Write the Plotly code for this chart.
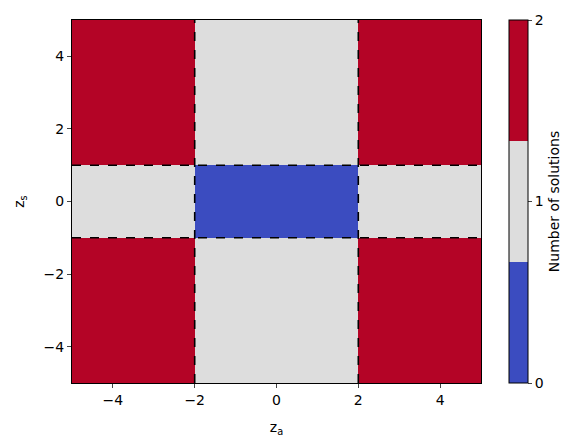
import plotly.graph_objects as go

# cell edges of the solution-count map
za_edges = [-5, -2, 2, 5]
zs_edges = [-5, -1, 1, 5]
n_solutions = [
    [2, 1, 2],
    [1, 0, 1],
    [2, 1, 2],
]
za_bounds = [-2, 2]
zs_bounds = [-1, 1]
ticks = [-4, -2, 0, 2, 4]

blue, grey, red = "#3b4cc0", "#dddddd", "#b40426"
cscale = [[0, blue], [1/3, blue], [1/3, grey], [2/3, grey], [2/3, red], [1, red]]

fig = go.Figure(go.Heatmap(
    x=za_edges, y=zs_edges, z=n_solutions, zmin=0, zmax=2, colorscale=cscale,
    colorbar=dict(x=1.069, xanchor="left", y=0, yanchor="bottom", len=1, lenmode="fraction",
                  thickness=19, outlinewidth=1, outlinecolor="black", xpad=0, ypad=0,
                  tickvals=[0, 1, 2], ticks="outside", ticklen=4,
                  title=dict(text="Number of solutions", side="right", font=dict(size=14)),
                  tickfont=dict(size=14)),
))

for v in za_bounds:
    fig.add_shape(type="line", x0=v, x1=v, y0=-5, y1=5, line=dict(color="black", dash="dash", width=1.6))
for v in zs_bounds:
    fig.add_shape(type="line", x0=-5, x1=5, y0=v, y1=v, line=dict(color="black", dash="dash", width=1.6))

axis = dict(range=[-5, 5], tickvals=ticks, ticks="outside", ticklen=4, showgrid=False, zeroline=False,
            showline=True, linecolor="black", mirror=True, tickfont=dict(size=14), automargin=False)
fig.update_xaxes(title=dict(text="z<sub>a</sub>", font=dict(size=14)), **axis)
fig.update_yaxes(title=dict(text="z<sub>s</sub>", font=dict(size=14)), **axis)
fig.update_layout(width=584, height=448, margin=dict(l=64, r=111, t=12, b=73, autoexpand=False),
                  plot_bgcolor="white", paper_bgcolor="white",
                  font=dict(family="DejaVu Sans", color="black"))
fig.write_html("out.html")
